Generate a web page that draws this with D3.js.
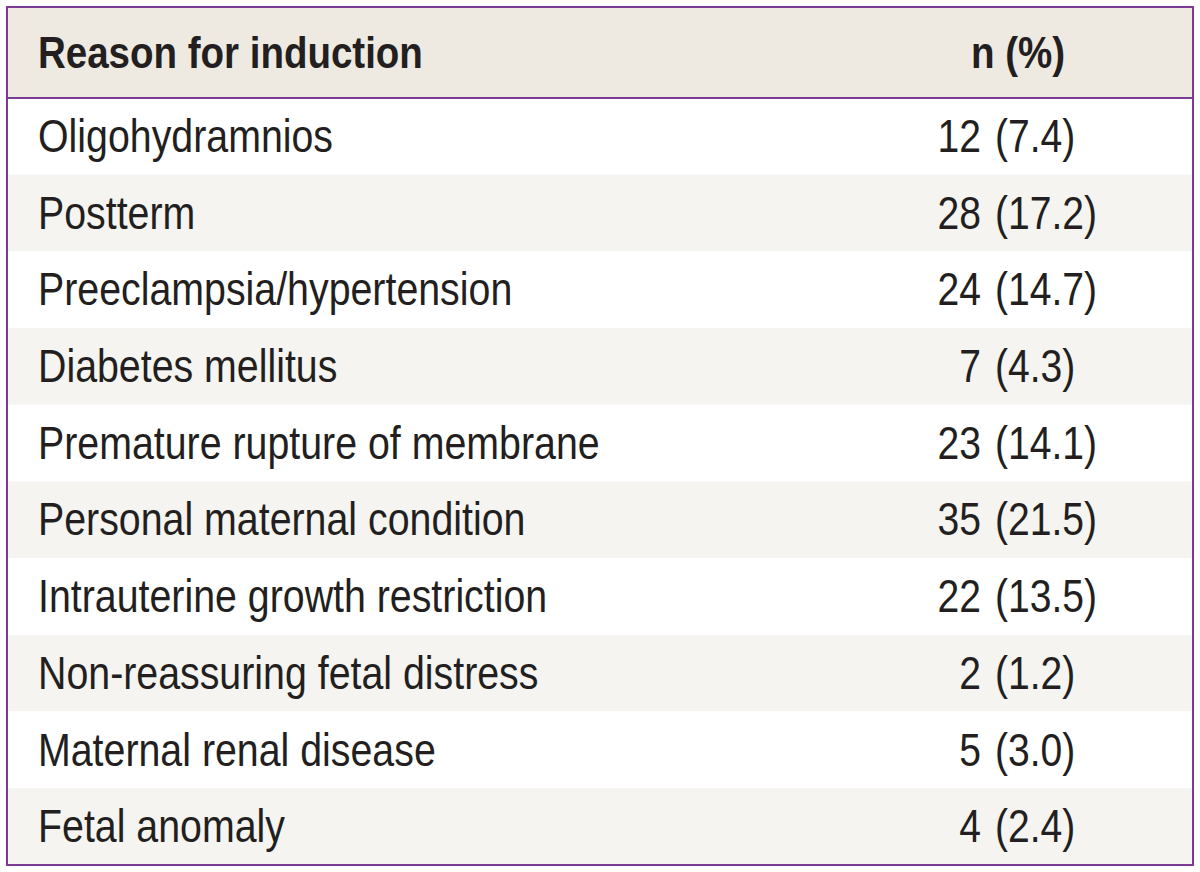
<!DOCTYPE html>
<html><head><meta charset="utf-8">
<script src="https://cdn.jsdelivr.net/npm/d3@7"></script>
<style>html,body{margin:0;padding:0;background:#fff;}svg{display:block;}</style>
</head><body>
<svg id="c" width="1200" height="872"></svg>
<script>
const headers = ["Reason for induction", "n (%)"];
const reasons = ["Oligohydramnios","Postterm","Preeclampsia/hypertension","Diabetes mellitus","Premature rupture of membrane","Personal maternal condition","Intrauterine growth restriction","Non-reassuring fetal distress","Maternal renal disease","Fetal anomaly"];
const counts = [12,28,24,7,23,35,22,2,5,4];
const percents = ["7.4","17.2","14.7","4.3","14.1","21.5","13.5","1.2","3.0","2.4"];

const box = {x0: 7, x1: 1193, y0: 7, headBottom: 98, y1: 865};
const font = "'Liberation Sans',Arial,sans-serif";
const txt = "#231f20", purple = "#7b3a96";
const svg = d3.select("#c");
const sxBody = 0.855, sxNum = 0.85, sxHead = 0.875;

const y = d3.scaleBand().domain(d3.range(reasons.length)).range([box.headBottom, box.y1]);

svg.append("rect").attr("x", box.x0).attr("y", box.y0).attr("width", box.x1 - box.x0).attr("height", box.headBottom - box.y0).attr("fill", "#eeeae2");
svg.selectAll("rect.row").data(reasons).join("rect").attr("class","row")
  .attr("x", box.x0).attr("y", (d,i)=>y(i)).attr("width", box.x1 - box.x0).attr("height", y.bandwidth())
  .attr("fill", (d,i)=> i%2 ? "#f5f4f0" : "#ffffff");

const fs = 46, cap = 0.72*fs;
const hy = (box.y0+box.headBottom)/2 + 15.5;
svg.append("text").attr("transform", `translate(38,${hy}) scale(${sxHead},1)`)
  .attr("font-family", font).attr("font-weight", "bold").attr("font-size", 44).attr("fill", txt).text(headers[0]);
svg.append("text").attr("transform", `translate(1018,${hy}) scale(${sxHead},1)`).attr("text-anchor","middle")
  .attr("font-family", font).attr("font-weight", "bold").attr("font-size", 44).attr("fill", txt).text(headers[1]);

const rows = svg.selectAll("g.r").data(reasons).join("g").attr("class","r")
  .attr("transform", (d,i)=>`translate(0,${y(i)+y.bandwidth()/2 + cap/2 - 1})`);
rows.append("text").attr("transform", `translate(38,0) scale(${sxBody},1)`).attr("font-family", font).attr("font-size", fs).attr("fill", txt).text(d=>d);
rows.append("text").attr("transform", `translate(981,0) scale(${sxNum},1)`).attr("text-anchor","end").attr("font-family", font).attr("font-size", fs).attr("fill", txt).text((d,i)=>counts[i]);
rows.append("text").attr("transform", `translate(995,0) scale(${sxNum},1)`).attr("font-family", font).attr("font-size", fs).attr("fill", txt).text((d,i)=>`(${percents[i]})`);

svg.append("line").attr("x1", box.x0).attr("x2", box.x1).attr("y1", box.headBottom).attr("y2", box.headBottom).attr("stroke", purple).attr("stroke-width", 2);
svg.append("rect").attr("x", box.x0).attr("y", box.y0).attr("width", box.x1-box.x0).attr("height", box.y1-box.y0)
  .attr("fill","none").attr("stroke", purple).attr("stroke-width", 2);
</script>
</body></html>
